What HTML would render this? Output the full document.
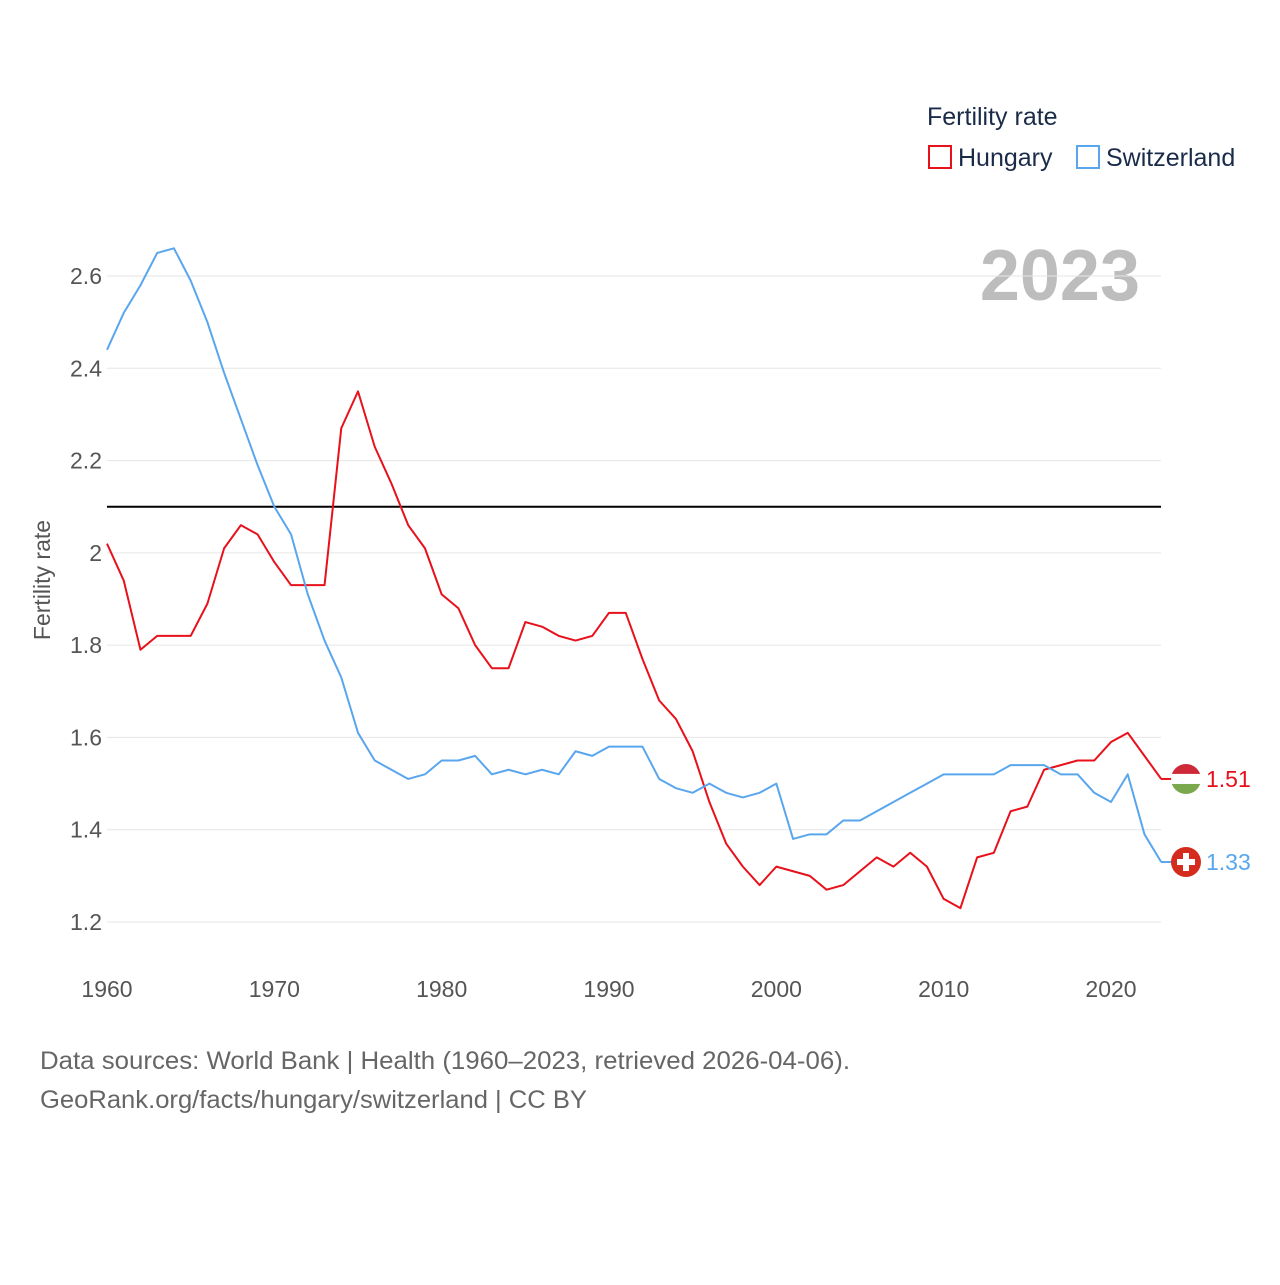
<!DOCTYPE html>
<html><head><meta charset="utf-8"><style>
body{margin:0;background:#fff;font-family:"Liberation Sans",sans-serif;}
svg text{font-family:"Liberation Sans",sans-serif;}
</style></head><body>
<svg id="c" width="1280" height="1280">
<text x="927" y="125" font-size="25" fill="#1a2b4a">Fertility rate</text>
<g><rect x="929" y="146" width="22" height="22" fill="none" stroke="#e8101a" stroke-width="2"/><text x="958" y="166" font-size="25" fill="#1a2b4a">Hungary</text></g>
<g><rect x="1077" y="146" width="22" height="22" fill="none" stroke="#5aa6ee" stroke-width="2"/><text x="1106" y="166" font-size="25" fill="#1a2b4a">Switzerland</text></g>
<text x="1140" y="300" font-size="72" font-weight="bold" fill="#bdbdbd" text-anchor="end">2023</text>
<text transform="translate(50,580) rotate(-90)" font-size="23" fill="#555" text-anchor="middle">Fertility rate</text>
<g id="grid"></g><g id="lines"></g>
<text x="40" y="1069" font-size="25" fill="#666" textLength="810" lengthAdjust="spacingAndGlyphs">Data sources: World Bank | Health (1960–2023, retrieved 2026-04-06).</text>
<text x="40" y="1108" font-size="25" fill="#666" textLength="547" lengthAdjust="spacingAndGlyphs">GeoRank.org/facts/hungary/switzerland | CC BY</text>
</svg>
<script>
const years=[];for(let y=1960;y<=2023;y++)years.push(y);
const hungary=[2.02,1.94,1.79,1.82,1.82,1.82,1.89,2.01,2.06,2.04,1.98,1.93,1.93,1.93,2.27,2.35,2.23,2.15,2.06,2.01,1.91,1.88,1.80,1.75,1.75,1.85,1.84,1.82,1.81,1.82,1.87,1.87,1.77,1.68,1.64,1.57,1.46,1.37,1.32,1.28,1.32,1.31,1.30,1.27,1.28,1.31,1.34,1.32,1.35,1.32,1.25,1.23,1.34,1.35,1.44,1.45,1.53,1.54,1.55,1.55,1.59,1.61,1.56,1.51];
const switzerland=[2.44,2.52,2.58,2.65,2.66,2.59,2.50,2.39,2.29,2.19,2.10,2.04,1.91,1.81,1.73,1.61,1.55,1.53,1.51,1.52,1.55,1.55,1.56,1.52,1.53,1.52,1.53,1.52,1.57,1.56,1.58,1.58,1.58,1.51,1.49,1.48,1.50,1.48,1.47,1.48,1.50,1.38,1.39,1.39,1.42,1.42,1.44,1.46,1.48,1.50,1.52,1.52,1.52,1.52,1.54,1.54,1.54,1.52,1.52,1.48,1.46,1.52,1.39,1.33];
const yTicks=[1.2,1.4,1.6,1.8,2,2.2,2.4,2.6];
const xTicks=[1960,1970,1980,1990,2000,2010,2020];
const replacement=2.1;
const X=y=>107+(y-1960)*(1111-107)/60;
const Y=v=>922-(v-1.2)*(922-276)/1.4;
const NS="http://www.w3.org/2000/svg";
const g=document.getElementById('grid'),L=document.getElementById('lines');
function mk(t,a,p){const e=document.createElementNS(NS,t);for(const k in a)e.setAttribute(k,a[k]);p.appendChild(e);return e;}
yTicks.forEach(v=>{
const l=mk('line',{x1:107,x2:1161,y1:Y(v),y2:Y(v),stroke:'#e6e6e6'},g);


const t=mk('text',{x:102,y:Y(v)+8,'font-size':23,fill:'#555','text-anchor':'end'},g);t.textContent=String(v);


});
xTicks.forEach(v=>{
const t=mk('text',{x:X(v),y:997,'font-size':23,fill:'#555','text-anchor':'middle'},g);t.textContent=v;


});
const r=mk('line',{x1:107,x2:1161,y1:Y(replacement),y2:Y(replacement),stroke:'#000','stroke-width':2},g);


function series(d,c,n){
const p=mk('polyline',{points:d.map((v,i)=>X(years[i])+','+Y(v)).join(' '),fill:'none',stroke:c,'stroke-width':2,'stroke-linejoin':'round'},L);


const lv=d[d.length-1],yy=Y(lv);
mk('line',{x1:1161,x2:1176,y1:yy,y2:yy,stroke:c,'stroke-width':2},L);
const t=mk('text',{x:1206,y:yy+8,'font-size':23,fill:c},L);t.textContent=lv.toFixed(2);


return yy;}
const hy=series(hungary,'#e8101a','hungary');
const sy=series(switzerland,'#5aa6ee','switzerland');
const fh=mk('g',{},L);


mk('clipPath',{id:'ch'},fh);mk('circle',{cx:1186,cy:hy,r:15},document.getElementById('ch'));
const gh=mk('g',{'clip-path':'url(#ch)'},fh);
mk('rect',{x:1171,y:hy-15,width:30,height:10,fill:'#ce2939'},gh);
mk('rect',{x:1171,y:hy-5,width:30,height:10,fill:'#fff'},gh);
mk('rect',{x:1171,y:hy+5,width:30,height:10,fill:'#7aa84c'},gh);
const fs=mk('g',{},L);


mk('circle',{cx:1186,cy:sy,r:15,fill:'#d52b1e'},fs);
mk('rect',{x:1183,y:sy-9,width:6,height:18,fill:'#fff'},fs);
mk('rect',{x:1177,y:sy-3,width:18,height:6,fill:'#fff'},fs);
</script>
</body></html>
